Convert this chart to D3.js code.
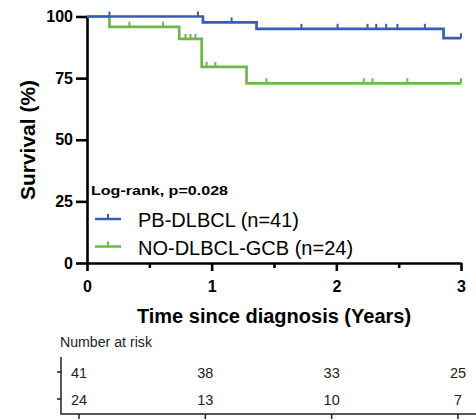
<!DOCTYPE html>
<meta charset="utf-8">
<style>
body { margin: 0; background: #fff; }
svg { font-family: Arial, "Liberation Sans", sans-serif; }
.axis path, .axis line { stroke: #000; stroke-width: 2.6px; }
.axis text { font-size: 16px; font-weight: bold; fill: #000; }
.curve { fill: none; stroke-width: 2.7px; }
.risk text { font-size: 14.5px; fill: #222; }
</style>
<body>
<script src="https://d3js.org/d3.v7.min.js"></script>
<script>
// KM curves (time in years, survival in %)
var pbTimes = [0, 0.93, 1.36, 2.86, 3.0];
var pbSurv = [100, 97.6, 95.0, 91.2, 91.2];
var pbCensor = [0.18, 0.89, 1.16, 1.72, 2.01, 2.25, 2.32, 2.40, 2.49, 2.71, 3.0];

var goTimes = [0, 0.18, 0.74, 0.92, 1.28, 3.0];
var goSurv = [100, 95.8, 90.9, 79.6, 72.9, 72.9];
var goCensor = [0.34, 0.61, 0.79, 0.83, 0.87, 0.96, 1.03, 1.44, 2.22, 2.29, 2.57, 3.0];

var seriesNames = ["PB-DLBCL (n=41)", "NO-DLBCL-GCB (n=24)"];
var seriesColors = ["#3b5cb5", "#6cb94a"];

// number at risk table
var riskTimes = [0, 1, 2, 3];
var pbRisk = [41, 38, 33, 25];
var goRisk = [24, 13, 10, 7];

var yTicks = [0, 25, 50, 75, 100];
var xTicks = [0, 1, 2, 3];
var xMinor = [0.5, 1.5, 2.5];

var W = 476, H = 420;

var svg = d3.select("body").append("svg")
    .attr("width", W)
    .attr("height", H);

// scales
var x = d3.scaleLinear().domain([0, 3]).range([87, 461]);
var y = d3.scaleLinear().domain([0, 100]).range([263, 16.5]);

// minor x ticks (shorter)
svg.append("g")
    .attr("class", "axis")
    .attr("transform", "translate(0," + y(0) + ")")
    .call(d3.axisBottom(x).tickValues(xMinor).tickSize(5).tickFormat(""))
    .select(".domain").remove();

// x axis
svg.append("g")
    .attr("class", "axis")
    .attr("transform", "translate(0," + y(0) + ")")
    .call(d3.axisBottom(x).tickValues(xTicks).tickSize(8).tickSizeOuter(0).tickPadding(10).tickFormat(d3.format("d")));

// y axis
svg.append("g")
    .attr("class", "axis")
    .attr("transform", "translate(" + x(0) + ",0)")
    .call(d3.axisLeft(y).tickValues(yTicks).tickSize(11).tickSizeOuter(0).tickPadding(3));

// axis titles
svg.append("text")
    .attr("x", (x(0) + x(3)) / 2)
    .attr("y", 323)
    .attr("text-anchor", "middle")
    .style("font-size", "20px")
    .style("font-weight", "bold")
    .text("Time since diagnosis (Years)");

svg.append("text")
    .attr("transform", "translate(35,140) rotate(-90)")
    .attr("text-anchor", "middle")
    .style("font-size", "21px")
    .style("font-weight", "bold")
    .text("Survival (%)");

// step line
var stepLine = d3.line()
    .x(function(d) { return x(d[0]); })
    .y(function(d) { return y(d[1]); })
    .curve(d3.curveStepAfter);

// survival at time t
function survAt(times, surv, t) {
    var s = surv[0];
    for (var i = 0; i < times.length; i++) {
        if (times[i] <= t) s = surv[i];
    }
    return s;
}

function drawCurve(times, surv, censor, color) {
    var pts = times.map(function(t, i) { return [t, surv[i]]; });
    svg.append("path")
        .datum(pts)
        .attr("class", "curve")
        .attr("stroke", color)
        .attr("d", stepLine);
    // censor marks
    svg.selectAll(null)
        .data(censor)
      .enter().append("line")
        .attr("x1", function(d) { return x(d); })
        .attr("x2", function(d) { return x(d); })
        .attr("y1", function(d) { return y(survAt(times, surv, d)); })
        .attr("y2", function(d) { return y(survAt(times, surv, d)) - 5; })
        .attr("stroke", color)
        .attr("stroke-width", 2);
}

drawCurve(goTimes, goSurv, goCensor, seriesColors[1]);
drawCurve(pbTimes, pbSurv, pbCensor, seriesColors[0]);

// legend
svg.append("text")
    .attr("x", 91)
    .attr("y", 195)
    .attr("textLength", 137)
    .attr("lengthAdjust", "spacingAndGlyphs")
    .style("font-size", "13px")
    .style("font-weight", "bold")
    .text("Log-rank, p=0.028");

var legend = svg.selectAll(".legend")
    .data(seriesNames)
  .enter().append("g")
    .attr("class", "legend")
    .attr("transform", function(d, i) { return "translate(0," + (219 + i * 27.5) + ")"; });

legend.append("line")
    .attr("x1", 95).attr("x2", 121)
    .attr("y1", 0).attr("y2", 0)
    .attr("stroke", function(d, i) { return seriesColors[i]; })
    .attr("stroke-width", 2.5);
legend.append("line")
    .attr("x1", 108).attr("x2", 108)
    .attr("y1", 0).attr("y2", -5)
    .attr("stroke", function(d, i) { return seriesColors[i]; })
    .attr("stroke-width", 2);
legend.append("text")
    .attr("x", 138)
    .attr("y", 8)
    .style("font-size", "20px")
    .text(function(d) { return d; });

// number at risk table
var xr = d3.scaleLinear().domain([0, 3]).range([79, 458]);
var risk = svg.append("g").attr("class", "risk");

risk.append("text")
    .attr("x", 60)
    .attr("y", 347)
    .style("font-size", "14px")
    .attr("textLength", 92)
    .attr("lengthAdjust", "spacingAndGlyphs")
    .text("Number at risk");

risk.append("path")
    .attr("d", "M61,357V414H" + W)
    .attr("fill", "none")
    .attr("stroke", "#222")
    .attr("stroke-width", 1.5);

var rowY = [378, 405];
rowY.forEach(function(ry) {
    risk.append("line")
        .attr("x1", 57).attr("x2", 61)
        .attr("y1", ry - 6).attr("y2", ry - 6)
        .attr("stroke", "#222").attr("stroke-width", 1.5);
});

risk.selectAll(".rtick")
    .data(riskTimes)
  .enter().append("line")
    .attr("x1", function(d) { return xr(d); })
    .attr("x2", function(d) { return xr(d); })
    .attr("y1", 414).attr("y2", 419)
    .attr("stroke", "#222").attr("stroke-width", 1.5);

[pbRisk, goRisk].forEach(function(row, r) {
    risk.selectAll(null)
        .data(row)
      .enter().append("text")
        .attr("x", function(d, i) { return xr(riskTimes[i]); })
        .attr("y", rowY[r])
        .attr("text-anchor", "middle")
        .text(function(d) { return d; });
});
</script>
</body>
